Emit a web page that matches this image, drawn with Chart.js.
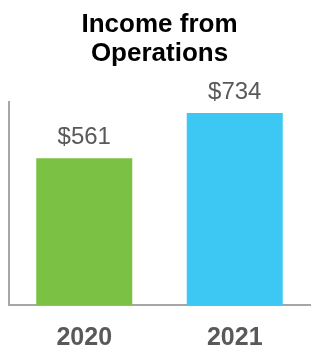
<!DOCTYPE html>
<html>
<head>
<meta charset="utf-8">
<style>
  html, body { margin: 0; padding: 0; background: #fff; }
  #wrap { width: 320px; height: 360px; position: relative; }
</style>
<script src="https://cdn.jsdelivr.net/npm/chart.js@4/dist/chart.umd.min.js"></script>
</head>
<body>
<div id="wrap"><canvas id="c" width="320" height="360"></canvas></div>
<script>
const chartTitle = ['Income from', 'Operations'];
const categories = ['2020', '2021'];
const values = [561, 734];
const valueLabels = ['$561', '$734'];
const barColors = ['#7BC143', '#3DC8F3'];

const valueLabelPlugin = {
  id: 'valueLabels',
  afterDatasetsDraw(chart) {
    const ctx = chart.ctx;
    const meta = chart.getDatasetMeta(0);
    ctx.save();
    ctx.font = '24px "Liberation Sans", Arial, sans-serif';
    ctx.fillStyle = '#595959';
    ctx.textAlign = 'center';
    ctx.textBaseline = 'alphabetic';
    meta.data.forEach((bar, i) => {
      ctx.fillText(valueLabels[i], bar.x, bar.y - 14);
    });
    ctx.restore();
  }
};

new Chart(document.getElementById('c'), {
  type: 'bar',
  data: {
    labels: categories,
    datasets: [{
      data: values,
      backgroundColor: barColors,
      borderWidth: 0,
      categoryPercentage: 1,
      barPercentage: 0.638
    }]
  },
  options: {
    responsive: false,
    animation: false,
    devicePixelRatio: 1,
    layout: { padding: { left: 9, right: 10, top: 0, bottom: 0 } },
    plugins: {
      legend: { display: false },
      tooltip: { enabled: false },
      title: {
        display: true,
        text: chartTitle,
        color: '#000000',
        font: { family: '"Liberation Sans", Arial, sans-serif', size: 26, weight: 'bold', lineHeight: 1.12 },
        padding: { top: 10, bottom: 34 }
      }
    },
    scales: {
      x: {
        grid: { display: false },
        border: { display: true, color: '#A6A6A6', width: 2 },
        ticks: {
          color: '#595959',
          font: { family: '"Liberation Sans", Arial, sans-serif', size: 25, weight: 'bold' },
          padding: 10
        },
        afterFit(scale) { scale.height = 55; }
      },
      y: {
        min: 0,
        max: 775,
        grid: { display: false },
        border: { display: true, color: '#A6A6A6', width: 2 },
        ticks: { display: false },
        afterFit(scale) { scale.width = 0; }
      }
    }
  },
  plugins: [valueLabelPlugin]
});
</script>
</body>
</html>
